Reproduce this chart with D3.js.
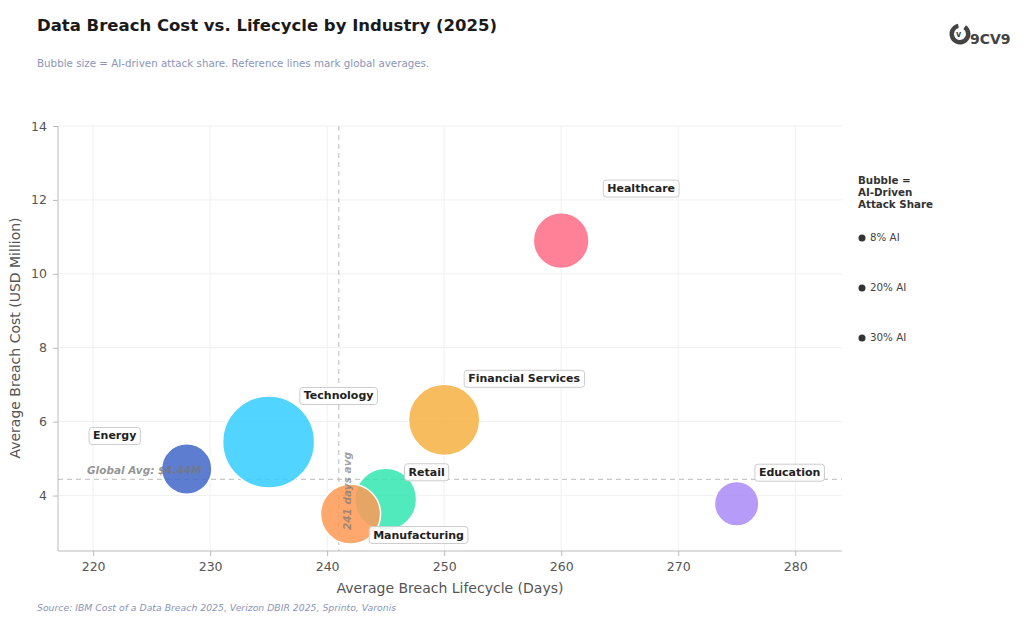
<!DOCTYPE html>
<html><head><meta charset="utf-8">
<script src="https://cdn.jsdelivr.net/npm/d3@7"></script>
<style>body{margin:0;background:#fff;font-family:"DejaVu Sans",sans-serif}</style>
</head><body><svg id="c" width="1024" height="622"></svg>
<script>
const industries = ["Healthcare","Financial Services","Technology","Energy","Retail","Manufacturing","Education"];
const lifecycleDays = [260, 250, 235, 228, 245, 242, 275];
const costUSDm = [10.9, 6.05, 5.45, 4.72, 3.9, 3.5, 3.78];
const aiShare = [11, 18, 30, 9, 13.6, 12.8, 7];
const colors = ["#ff6b86","#f5b041","#33ccff","#3f66c8","#33e6b0","#ff9955","#a98af8"];
const labelOffsets = [[80,-52],[80,-41],[70,-46],[-72,-33],[41,-27],[68,21],[53,-31]];
const legendItems = ["8% AI","20% AI","30% AI"];
const avgDays = 241, avgCost = 4.44;

const svg = d3.select("#c");
const x = d3.scaleLinear().domain([217, 284]).range([58, 842]);
const y = d3.scaleLinear().domain([2.5, 14]).range([551, 126]);
const r = d3.scaleSqrt().domain([0, 30]).range([0, 46]);

svg.append("text").attr("x",37).attr("y",31).attr("font-size",16.5).attr("font-weight","bold").attr("fill","#1a1a1a")
  .text("Data Breach Cost vs. Lifecycle by Industry (2025)");
svg.append("text").attr("x",37).attr("y",67).attr("font-size",10.3).attr("fill","#8a94b8")
  .text("Bubble size = AI-driven attack share. Reference lines mark global averages.");
svg.append("text").attr("x",37).attr("y",611).attr("font-size",9.3).attr("font-style","italic").attr("fill","#8a94b8")
  .text("Source: IBM Cost of a Data Breach 2025, Verizon DBIR 2025, Sprinto, Varonis");

// logo
const logo = svg.append("g").attr("transform","translate(960,34)");
logo.append("path").attr("d", d3.arc()({innerRadius:6,outerRadius:10.5,startAngle:0.6,endAngle:2*Math.PI-0.2})).attr("fill","#444");
logo.append("text").attr("x",-4).attr("y",3).attr("font-size",8).attr("font-weight","bold").attr("fill","#444").text("v");
logo.append("text").attr("x",10).attr("y",10).attr("font-size",14).attr("font-weight","bold").attr("fill","#444").text("9CV9");

// grid
const g = svg.append("g");
g.selectAll(".gx").data(x.ticks(7)).join("line").attr("x1",d=>x(d)).attr("x2",d=>x(d)).attr("y1",126).attr("y2",551).attr("stroke","#f0f0f0");
g.selectAll(".gy").data(y.ticks(6)).join("line").attr("y1",d=>y(d)).attr("y2",d=>y(d)).attr("x1",58).attr("x2",842).attr("stroke","#f0f0f0");

const xa = svg.append("g").attr("transform","translate(0,551)").call(d3.axisBottom(x).ticks(7).tickSize(5).tickPadding(6));
const ya = svg.append("g").attr("transform","translate(58,0)").call(d3.axisLeft(y).ticks(6).tickSize(5).tickPadding(6));
[xa,ya].forEach(a=>{a.selectAll("path,line").attr("stroke","#bbb");a.selectAll("text").attr("font-size",12.5).attr("fill","#555").attr("font-family","DejaVu Sans");});
xa.select(".domain").attr("d","M58,0H842");
ya.select(".domain").attr("d","M0,551V126");
svg.append("text").attr("x",450).attr("y",593).attr("text-anchor","middle").attr("font-size",14).attr("fill","#555").text("Average Breach Lifecycle (Days)");
svg.append("text").attr("transform","translate(20,338) rotate(-90)").attr("text-anchor","middle").attr("font-size",14).attr("fill","#555").text("Average Breach Cost (USD Million)");

// reference lines
svg.append("line").attr("x1",x(avgDays)).attr("x2",x(avgDays)).attr("y1",126).attr("y2",551).attr("stroke","#bbb").attr("stroke-dasharray","5,4");
svg.append("line").attr("x1",58).attr("x2",842).attr("y1",y(avgCost)).attr("y2",y(avgCost)).attr("stroke","#bbb").attr("stroke-dasharray","5,4");

// bubbles
const order = d3.range(industries.length).sort((a,b)=>aiShare[b]-aiShare[a]);
svg.selectAll(".b").data(order).join("circle")
  .attr("cx",i=>x(lifecycleDays[i])).attr("cy",i=>y(costUSDm[i])).attr("r",i=>r(aiShare[i]))
  .attr("fill",i=>colors[i]).attr("fill-opacity",0.85).attr("stroke","#fff").attr("stroke-width",1.5);

svg.append("text").attr("x",87).attr("y",y(avgCost)-5).attr("font-size",10.5).attr("font-weight","bold").attr("font-style","italic").attr("fill","#777").attr("fill-opacity",0.8).text("Global Avg: $4.44M");
svg.append("text").attr("transform",`translate(${x(avgDays)+12},530) rotate(-90)`).attr("font-size",10.5).attr("font-weight","bold").attr("font-style","italic").attr("fill","#777").attr("fill-opacity",0.7).text("241 days avg");

// labels
industries.forEach((name,i)=>{
  const lx = x(lifecycleDays[i])+labelOffsets[i][0], ly = y(costUSDm[i])+labelOffsets[i][1];
  const t = svg.append("text").attr("x",lx).attr("y",ly).attr("text-anchor","middle").attr("dominant-baseline","central")
    .attr("font-size",11).attr("font-weight","bold").attr("fill","#222").text(name);
  const bb = t.node().getBBox();
  svg.insert("rect", () => t.node()).attr("x",bb.x-4).attr("y",bb.y-2).attr("width",bb.width+8).attr("height",bb.height+4)
    .attr("rx",3).attr("fill","#fff").attr("fill-opacity",0.85).attr("stroke","#ccc");
});

// legend
const lg = svg.append("g").attr("transform","translate(858,0)");
["Bubble =","AI-Driven","Attack Share"].forEach((s,i)=>lg.append("text").attr("x",0).attr("y",184+i*12).attr("font-size",10.3).attr("font-weight","bold").attr("fill","#333").text(s));
legendItems.forEach((s,i)=>{
  lg.append("circle").attr("cx",4).attr("cy",238+i*50).attr("r",3.5).attr("fill","#333");
  lg.append("text").attr("x",12).attr("y",241+i*50).attr("font-size",10.3).attr("fill","#444").text(s);
});
</script></body></html>
